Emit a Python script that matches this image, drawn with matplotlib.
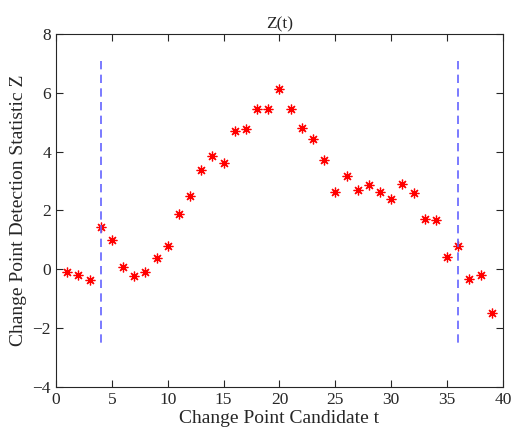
import matplotlib.pyplot as plt
import numpy as np

plt.rcParams['font.family'] = ['Liberation Serif', 'DejaVu Serif']

t = np.arange(1, 40)
z = [-0.09, -0.20, -0.36, 1.43, 1.00, 0.09, -0.23, -0.10, 0.38, 0.78,
     1.88, 2.50, 3.38, 3.87, 3.63, 4.71, 4.77, 5.46, 5.47, 6.13,
     5.47, 4.80, 4.43, 3.71, 2.62, 3.18, 2.68, 2.87, 2.64, 2.38,
     2.91, 2.59, 1.70, 1.67, 0.42, 0.78, -0.35, -0.20, -1.50]
change_points = [4, 36]
line_lo, line_hi = -2.5, 7.1

fig = plt.figure(figsize=(5.15, 4.33), dpi=100)
ax = fig.add_axes([0.1087, 0.107, 0.868, 0.814])

ax.plot(t, z, linestyle='none', marker=(8, 2, 0), markersize=7,
        markeredgewidth=0.9, color='red')
# dash pattern picked so both ends finish on a dash
for cp in change_points:
    ax.plot([cp, cp], [line_hi, line_lo], '--', color='#6464ff', lw=1.2,
            dashes=(5, 3.2))

ax.set_xlim(0, 40)
ax.set_ylim(-4, 8)
ax.set_xticks(range(0, 41, 5))
ax.set_yticks(range(-4, 9, 2))
ax.tick_params(direction='in', top=True, right=True, length=5,
               labelsize=12.5, color='#262626', labelcolor='#262626')
for s in ax.spines.values():
    s.set_color('#262626')
    s.set_linewidth(0.8)

ax.set_title('Z(t)', fontsize=12.5, color='#262626', pad=4)
ax.set_xlabel('Change Point Candidate t', fontsize=14, color='#262626', labelpad=2)
ax.set_ylabel('Change Point Detection Statistic Z', fontsize=14, color='#262626', labelpad=4)

fig.savefig('out.png')
